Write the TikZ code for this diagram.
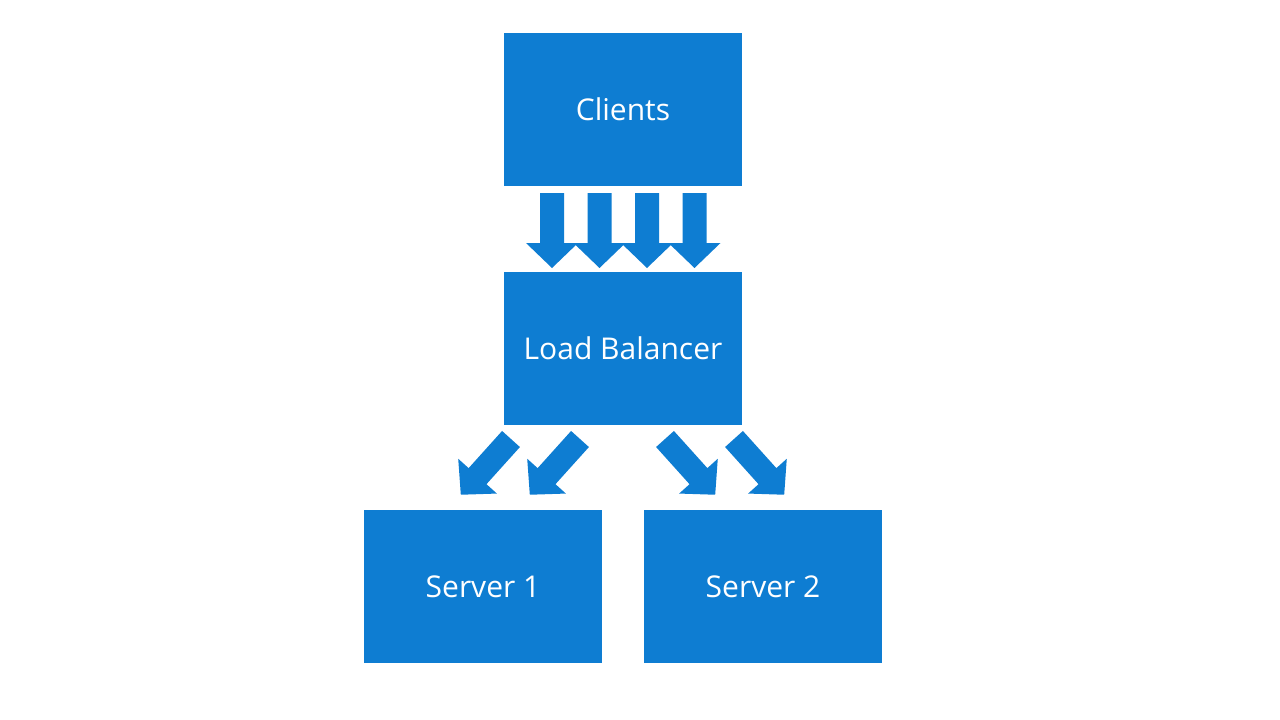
\documentclass[tikz,border=0pt]{standalone}
\usepackage{fontspec}
\setmainfont{Open Sans}
\definecolor{boxblue}{RGB}{14,125,210}
\tikzset{
  box/.style={fill=boxblue, draw=none, minimum width=238pt, minimum height=153pt, inner sep=0pt, text=white, font=\fontsize{30}{36}\selectfont},
  blockarrow/.pic={\fill[boxblue] (-12,0) -- (12,0) -- (12,50) -- (26,50) -- (0,75) -- (-26,50) -- (-12,50) -- cycle;}
}
\begin{document}
\begin{tikzpicture}[x=1pt,y=-1pt]
\useasboundingbox (0,0) rectangle (1280,720);
\fill[white] (0,0) rectangle (1280,720);
\node[box] (clients) at (623,109.5) {Clients};
\node[box] (lb) at (623,348.5) {Load Balancer};
\node[box] (s1) at (483,586.5) {Server 1};
\node[box] (s2) at (763,586.5) {Server 2};
\foreach \xx in {552,599.5,647,694.5} {
  \pic at (\xx,193) {blockarrow};
}
\pic[rotate=-42] at (511,439) {blockarrow};
\pic[rotate=-42] at (580,439) {blockarrow};
\pic[rotate=42] at (665,439) {blockarrow};
\pic[rotate=42] at (734,439) {blockarrow};
\end{tikzpicture}
\end{document}
